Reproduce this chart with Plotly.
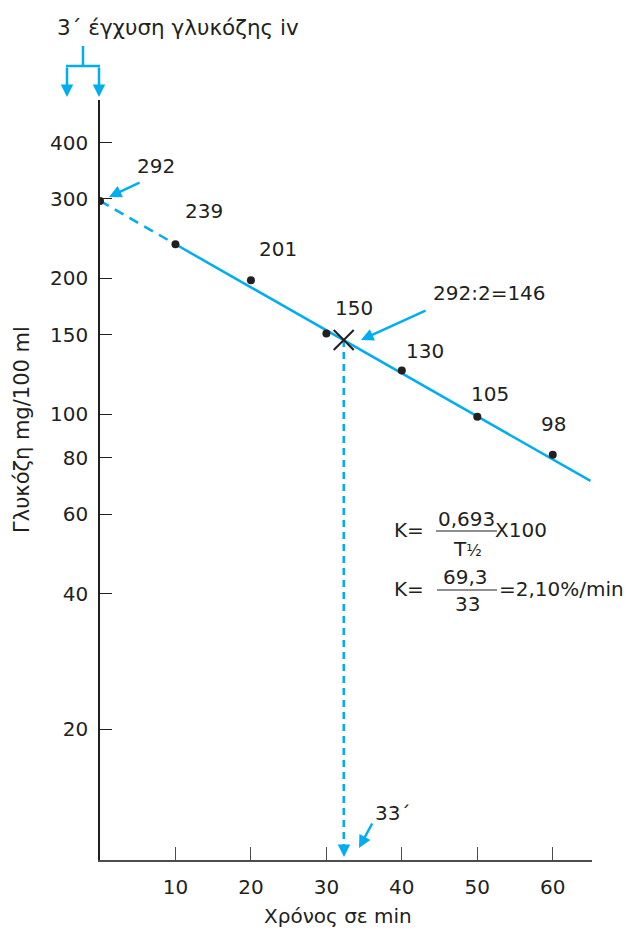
import plotly.graph_objects as go

# ---- data ----
time_min = [0, 10, 20, 30, 40, 50, 60]
glucose_pts = [297, 238, 198, 151, 125, 98.7, 81.3]
point_labels = ["292", "239", "201", "150", "130", "105", "98"]
fit_time_dashed = [0, 10]
fit_gluc_dashed = [297, 238]
fit_time_solid = [10, 65]
fit_gluc_solid = [238, 71.1]
t_half = 32.3
half_glucose = 146
y_ticks = [20, 40, 60, 80, 100, 150, 200, 300, 400]
x_ticks = [10, 20, 30, 40, 50, 60]

W, H = 628, 929
L, R, T, B = 100, 592, 100, 860
CYAN = "#00aeef"
INK = "#231f20"
FONT = "DejaVu Sans, sans-serif"
FS = 20

def px(x):
    return (x - L) / (R - L)

def py(y):
    return (B - y) / (B - T)

fig = go.Figure()

fig.add_trace(go.Scatter(x=fit_time_dashed, y=fit_gluc_dashed, mode="lines",
                         line=dict(color=CYAN, width=2.5, dash="10px,7px"),
                         hoverinfo="skip", showlegend=False))
fig.add_trace(go.Scatter(x=fit_time_solid, y=fit_gluc_solid, mode="lines",
                         line=dict(color=CYAN, width=2.5),
                         hoverinfo="skip", showlegend=False))
# vertical dashed drop line from half value to axis
fig.add_trace(go.Scatter(x=[t_half, t_half], y=[half_glucose, 10.75], mode="lines",
                         line=dict(color=CYAN, width=2.5, dash="7px,5px"),
                         hoverinfo="skip", showlegend=False))
fig.add_trace(go.Scatter(x=time_min, y=glucose_pts, mode="markers",
                         marker=dict(color=INK, size=8),
                         showlegend=False))
fig.add_trace(go.Scatter(x=[t_half], y=[half_glucose], mode="markers",
                         marker=dict(symbol="x-thin", size=20,
                                     line=dict(color=INK, width=2)),
                         showlegend=False))

ann = []
def text(s, x, y, size=FS, **kw):
    ann.append(dict(text=s, x=px(x), y=py(y), xref="paper", yref="paper",
                    showarrow=False, font=dict(family=FONT, size=size, color=INK),
                    xanchor="center", yanchor="middle", **kw))

def arrow(x_tip, y_tip, x_tail, y_tail, head=2, size=1.0, width=2.5):
    ann.append(dict(text="", x=px(x_tip), y=py(y_tip), xref="paper", yref="paper",
                    ax=x_tail - x_tip, ay=y_tail - y_tip, axref="pixel", ayref="pixel",
                    showarrow=True, arrowhead=head, arrowsize=size,
                    arrowwidth=width, arrowcolor=CYAN, standoff=0))

# point labels
label_pos = [(156, 166), (204, 211), (278, 249), (354, 308), (425, 351), (490, 394), (553, 424)]
for s, (x, y) in zip(point_labels, label_pos):
    text(s, x, y)

text("292:2=146", 489, 293)
text("33΄", 392, 813)
text("3΄ έγχυση γλυκόζης iv", 178, 28, size=21.5)

# formulas
text("K=", 409, 530)
text("0,693", 466, 519)
text("T<span style='font-size:16px'>½</span>", 467, 549)
text("X100", 521, 530)
text("K=", 409, 589)
text("69,3", 465, 577)
text("33", 467, 604)
text("=2,10%/min", 561, 589)

# axis titles
text("Γλυκόζη mg/100 ml", 22, 430, size=21, textangle=-90)
text("Χρόνος σε min", 338, 916)

# arrows
arrow(109, 197, 141, 182)
arrow(361, 340, 427, 310)
arrow(359, 848, 373, 822)
arrow(344, 857, 344, 845)
arrow(67, 97, 67, 66)
arrow(99, 97, 99, 66)

shapes = [
    dict(type="line", xref="paper", yref="paper", x0=px(83), x1=px(83), y0=py(46), y1=py(66),
         line=dict(color=CYAN, width=2.5)),
    dict(type="line", xref="paper", yref="paper", x0=px(66), x1=px(100), y0=py(66), y1=py(66),
         line=dict(color=CYAN, width=2.5)),
    dict(type="line", xref="paper", yref="paper", x0=px(436), x1=px(497), y0=py(531), y1=py(531),
         line=dict(color=INK, width=1.2)),
    dict(type="line", xref="paper", yref="paper", x0=px(437), x1=px(497), y0=py(590), y1=py(590),
         line=dict(color=INK, width=1.2)),
]

fig.update_layout(
    width=W, height=H,
    margin=dict(l=L, r=W - R, t=T, b=H - B),
    paper_bgcolor="white", plot_bgcolor="white",
    font=dict(family=FONT, size=FS, color=INK),
    showlegend=False,
    annotations=ann, shapes=shapes,
    xaxis=dict(range=[0, 65.2], showgrid=False, zeroline=False,
               showline=True, linecolor="#4d4d4d", linewidth=1.5,
               ticks="inside", ticklen=13, tickwidth=1.2, tickcolor="#4d4d4d",
               tickvals=x_ticks, ticktext=[str(v) for v in x_ticks],
               ticklabelstandoff=8, tickfont=dict(family=FONT, size=FS, color=INK)),
    yaxis=dict(type="log", range=[1.0113, 2.6965], showgrid=False, zeroline=False,
               showline=True, linecolor=INK, linewidth=1.5,
               ticks="inside", ticklen=12, tickwidth=1.2, tickcolor=INK,
               tickvals=y_ticks, ticktext=[str(v) for v in y_ticks],
               ticklabelstandoff=6, tickfont=dict(family=FONT, size=FS, color=INK)),
)

fig.write_html("out.html")
